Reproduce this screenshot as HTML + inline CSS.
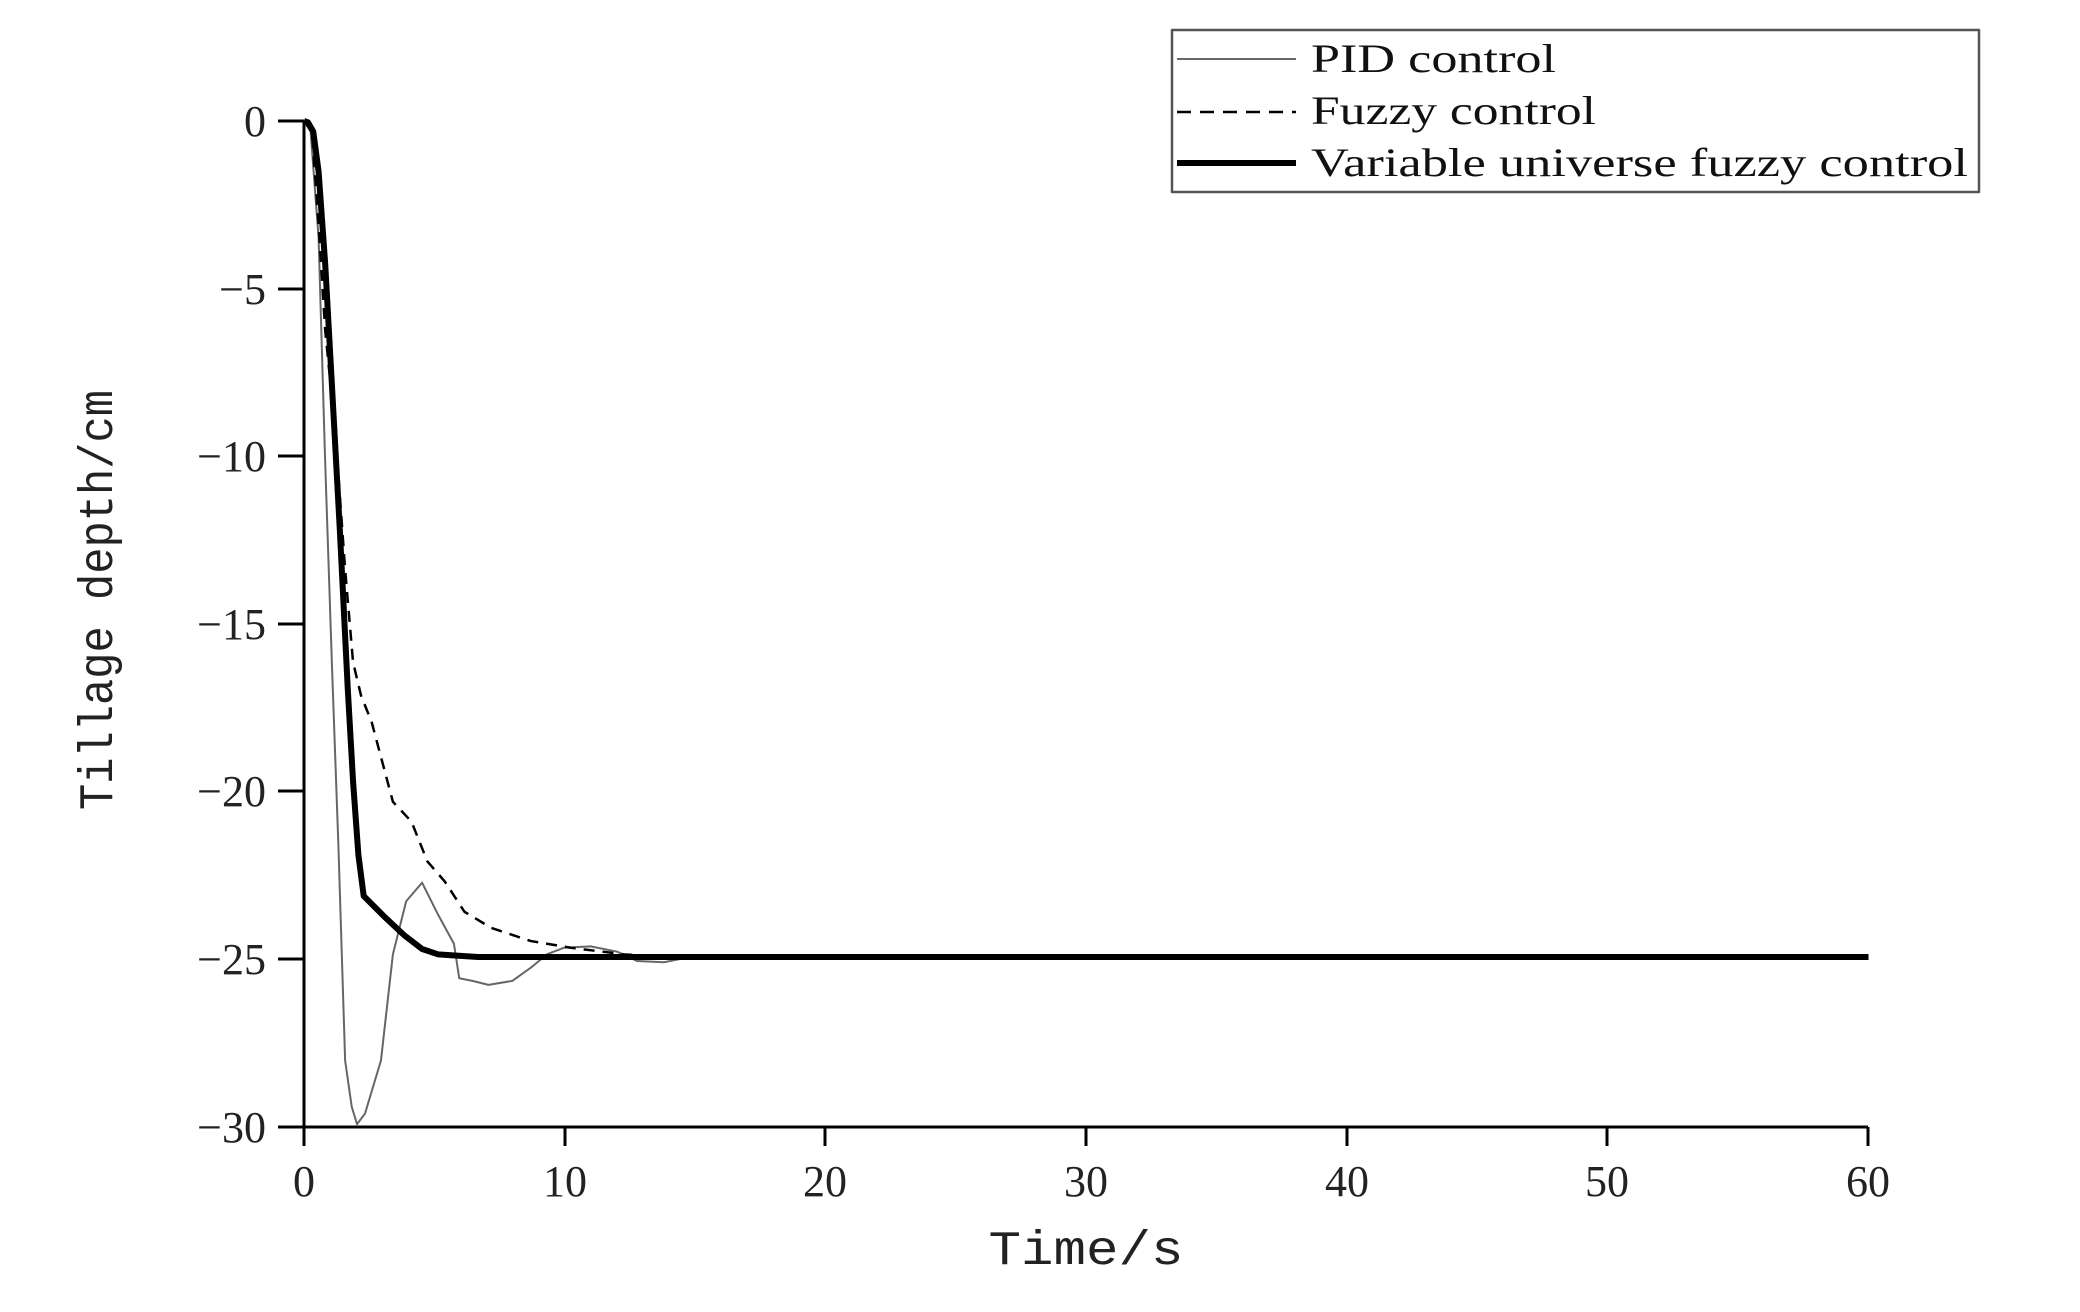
<!DOCTYPE html>
<html><head><meta charset="utf-8"><style>
html,body{margin:0;padding:0;background:#fff;width:2080px;height:1312px;overflow:hidden}
svg{display:block}
</style></head><body>
<svg width="2080" height="1312" viewBox="0 0 2080 1312" xmlns="http://www.w3.org/2000/svg">
<rect width="2080" height="1312" fill="#fff"/>
<g fill="none" stroke-linejoin="round">
<path d="M304,121 V1127 H1868" stroke="#000" stroke-width="3"/>
<g stroke="#000" stroke-width="3">
<path d="M278,121 H304 M278,289 H304 M278,456 H304 M278,624 H304 M278,791 H304 M278,959 H304 M278,1127 H304"/>
<path d="M304,1127 V1146 M565,1127 V1146 M825,1127 V1146 M1086,1127 V1146 M1347,1127 V1146 M1607,1127 V1146 M1868,1127 V1146"/>
</g>
<g transform="translate(0.1,-1.1) scale(1.327)">
<path vector-effect="non-scaling-stroke" stroke="#666" stroke-width="2" d="M229,92 L234,100 L240,180 L245,350 L250,500 L255,640 L260,800 L265,835 L269,848 L275,840 L287,800 L296,720 L306,680 L318,666 L330,690 L342,712 L346,738 L356,740 L368,743 L386,740 L400,730 L412,720 L425,715 L445,714 L465,718 L480,725 L500,726 L520,722 L1408,722"/>
<path vector-effect="non-scaling-stroke" stroke="#000" stroke-width="2.5" stroke-dasharray="11,8" d="M229,92 L235,100 L240,170 L245,250 L250,300 L255,360 L260,430 L266,500 L272,525 L280,545 L288,575 L296,605 L310,620 L322,650 L335,665 L350,688 L370,700 L400,710 L430,715 L470,720 L500,722 L1408,722"/>
<path vector-effect="non-scaling-stroke" stroke="#000" stroke-width="6" d="M229,92 L232,93 L236,100 L240,130 L245,200 L250,290 L256,400 L262,520 L266,590 L270,645 L274,676 L290,692 L305,706 L318,716 L330,720 L360,722 L1408,722"/>
</g>
<rect x="1172" y="30" width="807" height="162" stroke="#555" stroke-width="2.5"/>
<path d="M1177,59 H1296" stroke="#666" stroke-width="2"/>
<path d="M1177,112 H1296" stroke="#000" stroke-width="2.5" stroke-dasharray="14,9"/>
<path d="M1177,163 H1296" stroke="#000" stroke-width="6"/>
</g>
<g font-family="'Liberation Serif', serif" fill="#111" font-size="40">
<text x="1311" y="72" textLength="245" lengthAdjust="spacingAndGlyphs">PID control</text>
<text x="1311" y="124" textLength="285" lengthAdjust="spacingAndGlyphs">Fuzzy control</text>
<text x="1311" y="176" textLength="657" lengthAdjust="spacingAndGlyphs">Variable universe fuzzy control</text>
</g>
<g font-family="'Liberation Serif', serif" fill="#222" font-size="44" text-anchor="end">
<text x="266" y="136">0</text>
<text x="266" y="304">−5</text>
<text x="266" y="471">−10</text>
<text x="266" y="639">−15</text>
<text x="266" y="806">−20</text>
<text x="266" y="974">−25</text>
<text x="266" y="1142">−30</text>
</g>
<g font-family="'Liberation Serif', serif" fill="#222" font-size="44" text-anchor="middle">
<text x="304" y="1196">0</text>
<text x="565" y="1196">10</text>
<text x="825" y="1196">20</text>
<text x="1086" y="1196">30</text>
<text x="1347" y="1196">40</text>
<text x="1607" y="1196">50</text>
<text x="1868" y="1196">60</text>
</g>
<text x="1086" y="1264" font-family="'Liberation Mono', monospace" font-size="48" fill="#222" text-anchor="middle" textLength="195" lengthAdjust="spacingAndGlyphs">Time/s</text>
<text transform="translate(112,600) rotate(-90)" font-family="'Liberation Mono', monospace" font-size="48" fill="#222" text-anchor="middle" textLength="420" lengthAdjust="spacingAndGlyphs">Tillage depth/cm</text>
</svg>
</body></html>
